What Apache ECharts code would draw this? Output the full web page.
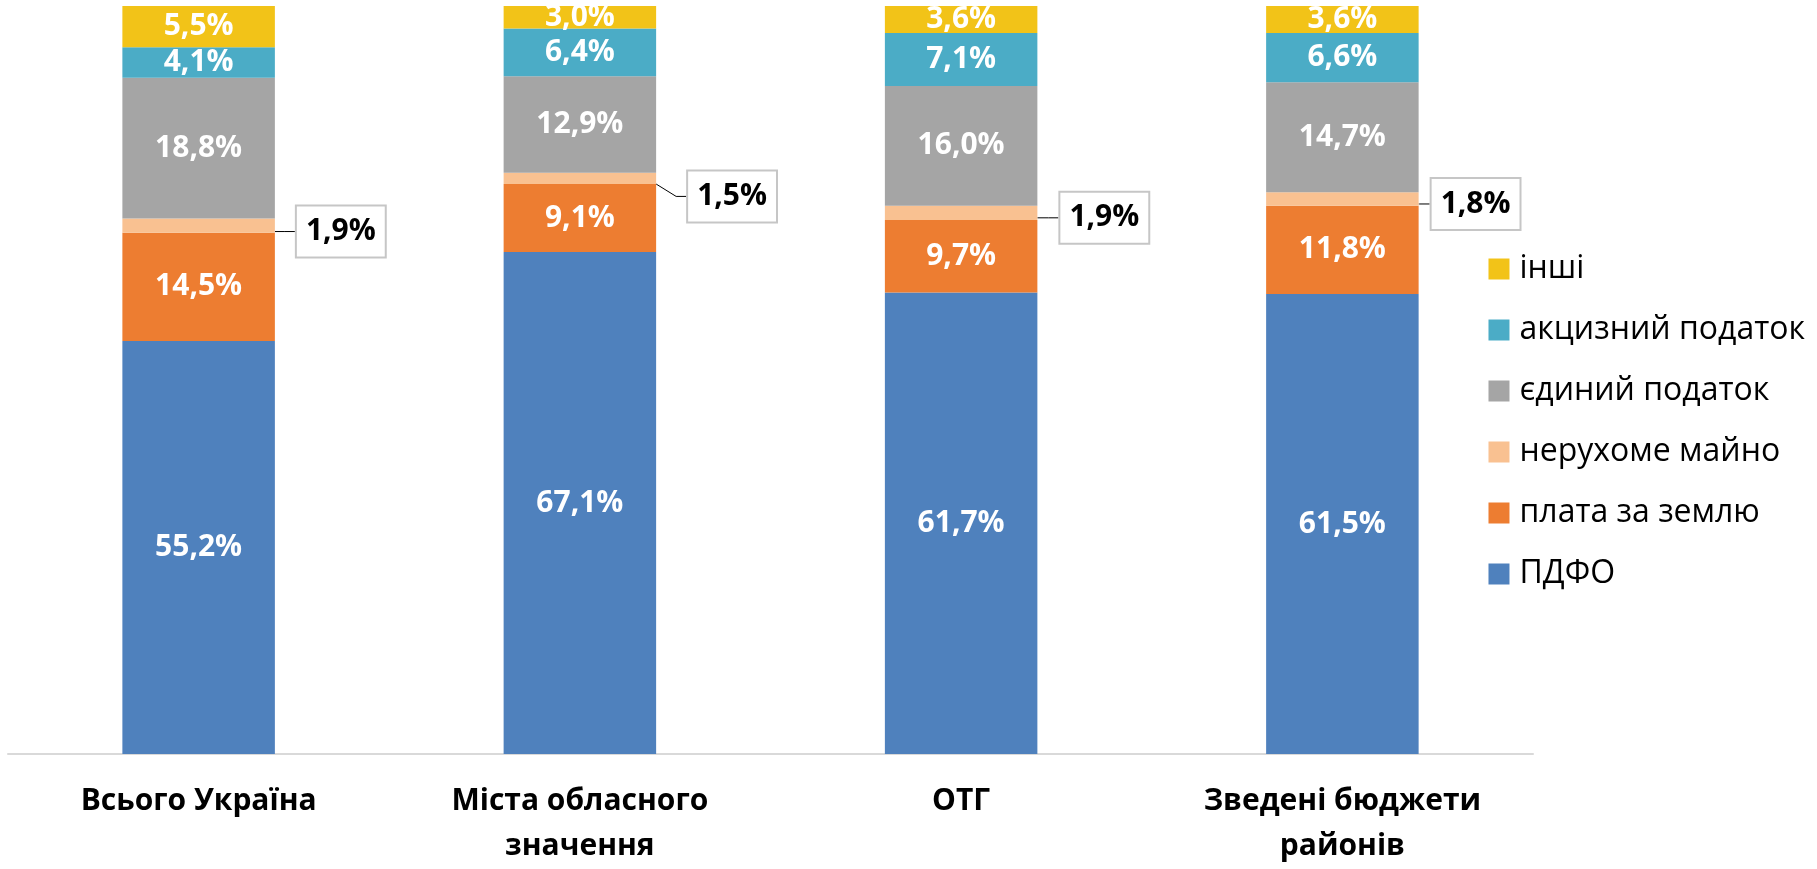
<!DOCTYPE html>
<html>
<head>
<meta charset="utf-8">
<script src="https://cdn.jsdelivr.net/npm/echarts@6/dist/echarts.min.js"></script>
<style>
html,body{margin:0;padding:0;background:#fff;}
#chart{width:1817px;height:869px;}
</style>
</head>
<body>
<div id="chart"></div>
<script>
const categories = ['Всього Україна', 'Міста обласного\nзначення', 'ОТГ', 'Зведені бюджети\nрайонів'];
const seriesNames = ['ПДФО', 'плата за землю', 'нерухоме майно', 'єдиний податок', 'акцизний податок', 'інші'];
const pdfo = [55.2, 67.1, 61.7, 61.5];
const land = [14.5, 9.1, 9.7, 11.8];
const property = [1.9, 1.5, 1.9, 1.8];
const single = [18.8, 12.9, 16.0, 14.7];
const excise = [4.1, 6.4, 7.1, 6.6];
const other = [5.5, 3.0, 3.6, 3.6];
const legendOrder = ['інші', 'акцизний податок', 'єдиний податок', 'нерухоме майно', 'плата за землю', 'ПДФО'];

const colors = ['#4F81BD', '#ED7D31', '#F9C191', '#A5A5A5', '#4BACC6', '#F2C318'];
const FONT = 'Open Sans';
const fmt = v => v.toFixed(1).replace('.', ',') + '%';

const calloutDx = [2, 12, 3, -7];
const calloutDy = [6, 18, 5, 5];

const values = [pdfo, land, property, single, excise, other];
const series = values.map((arr, i) => {
  const s = {
    name: seriesNames[i],
    type: 'bar',
    stack: 'total',
    barWidth: '40%',
    data: arr,
    itemStyle: { color: colors[i] },
    label: {
      show: true,
      position: 'inside',
      color: '#fff',
      fontFamily: FONT,
      fontWeight: 'bold',
      fontSize: 30,
      formatter: p => fmt(p.value)
    }
  };
  if (i === 2) {
    s.label = {
      show: true,
      position: 'right',
      distance: 20,
      color: '#000',
      fontFamily: FONT,
      fontWeight: 'bold',
      fontSize: 30,
      backgroundColor: '#fff',
      borderColor: '#C6C6C6',
      borderWidth: 2,
      padding: [10, 9, 10, 9],
      formatter: p => fmt(p.value)
    };
    s.labelLine = { show: true, length2: 10, lineStyle: { color: '#000', width: 1 } };
    s.labelLayout = p => ({ dx: calloutDx[p.dataIndex], dy: calloutDy[p.dataIndex] });
  }
  return s;
});

const chart = echarts.init(document.getElementById('chart'));
chart.setOption({
  animation: false,
  backgroundColor: '#fff',
  grid: { left: 8, right: 284, top: 6, bottom: 112, containLabel: false },
  legend: {
    orient: 'vertical',
    right: 12,
    top: 253,
    padding: 0,
    itemAlign: 'left',
    data: legendOrder,
    icon: 'rect',
    itemWidth: 21,
    itemHeight: 21,
    itemGap: 29,
    textStyle: { fontFamily: FONT, fontSize: 32, color: '#000', lineHeight: 32, padding: [0, 0, 0, 5] }
  },
  xAxis: {
    type: 'category',
    data: categories,
    axisTick: { show: false },
    axisLine: { lineStyle: { color: '#D9D9D9', width: 2 } },
    axisLabel: { interval: 0, fontFamily: FONT, fontWeight: 'bold', fontSize: 30, color: '#000', lineHeight: 45, margin: 25 }
  },
  yAxis: { type: 'value', min: 0, max: 100, show: false },
  series: series
});
</script>
</body>
</html>
